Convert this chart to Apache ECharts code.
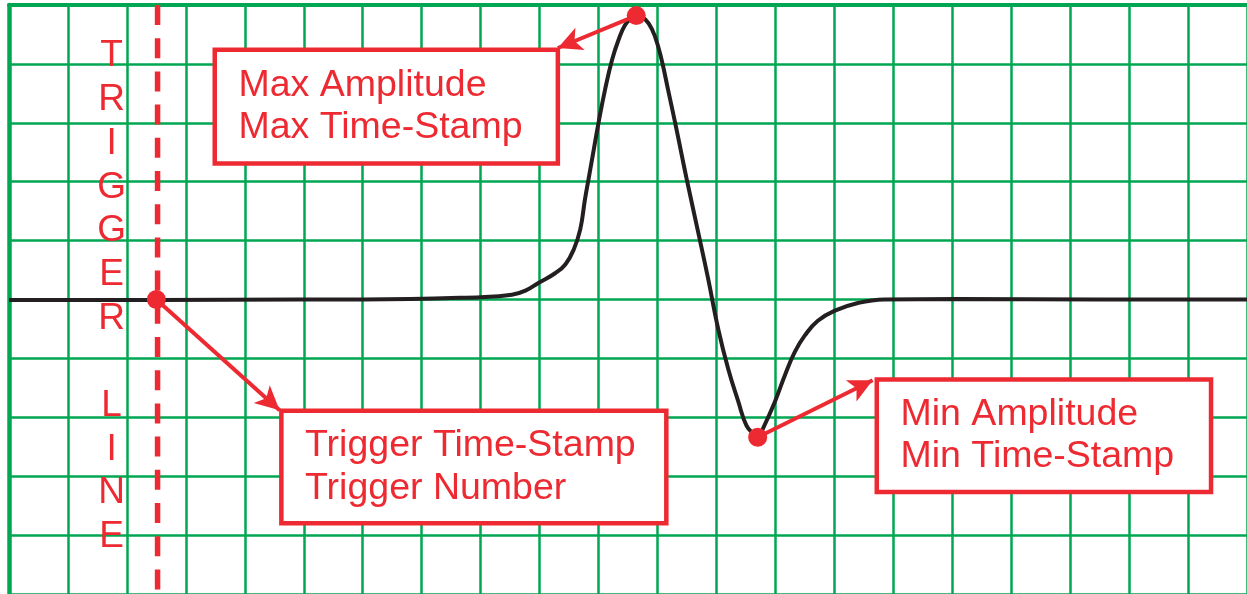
<!DOCTYPE html>
<html><head><meta charset="utf-8">
<script src="https://cdn.jsdelivr.net/npm/echarts@6/dist/echarts.min.js"></script>
<style>html,body{margin:0;padding:0;background:#fff;overflow:hidden}#chart{width:1247px;height:594px;}</style>
</head><body><div id="chart"></div>
<script>
// ---- data (grid units) ----
const waveX = [0.00, 2.50, 4.92, 6.01, 8.00, 8.53, 8.76, 8.98, 9.27, 9.44, 9.58, 9.69, 9.77, 9.83, 9.92, 10.00, 10.11, 10.23, 10.34, 10.45, 10.56, 10.64, 10.73, 10.85, 10.96, 11.07, 11.18, 11.30, 11.41, 11.49, 11.68, 11.86, 12.03, 12.20, 12.37, 12.51, 12.65, 12.71, 12.79, 12.99, 13.16, 13.33, 13.50, 13.72, 14.01, 14.40, 14.85, 16.09, 18.46, 21.00];
const waveY = [-0.01, -0.01, 0.00, 0.00, 0.04, 0.08, 0.15, 0.28, 0.45, 0.60, 0.85, 1.19, 1.70, 2.04, 2.55, 3.00, 3.56, 4.07, 4.41, 4.66, 4.78, 4.82, 4.80, 4.69, 4.46, 4.07, 3.56, 3.00, 2.46, 2.07, 1.19, 0.35, -0.50, -1.18, -1.73, -2.14, -2.30, -2.33, -2.19, -1.74, -1.29, -0.89, -0.61, -0.36, -0.19, -0.06, 0.00, 0.01, 0.00, 0.00];
const keyNames = ['Trigger', 'Max', 'Min'];
const keyX = [2.50, 10.64, 12.70];
const keyY = [0.00, 4.82, -2.34];
const triggerX = 2.52;
const boxText = [
  ['Trigger Time-Stamp', 'Trigger Number'],
  ['Max Amplitude', 'Max Time-Stamp'],
  ['Min Amplitude', 'Min Time-Stamp']
];
const triggerLabel = 'TRIGGER LINE';

// ---- layout (grid units) ----
const xMin = 0, xMax = 21, yMin = -5, yMax = 5;
const boxRects = [
  [4.62, -1.89, 11.15, -3.80],
  [3.49, 4.24, 9.31, 2.31],
  [14.72, -1.36, 20.39, -3.27]
];
const arrowTips = [[4.59, -1.88], [9.31, 4.27], [14.65, -1.37]];
const triggerLabelAt = [1.74, 0.05];

const GREEN = '#00a651', RED = '#ed2a31', INK = '#231f20';
const FONT = '"Liberation Sans", Arial, Helvetica, sans-serif';
const ARROW = [18, 24];

const chart = echarts.init(document.getElementById('chart'), null, {renderer: 'canvas'});

chart.setOption({
  animation: false,
  backgroundColor: '#fff',
  grid: {left: 9, top: 5, width: 59.1 * 21, height: 591, containLabel: false},
  xAxis: {
    type: 'value', min: xMin, max: xMax, interval: 1, position: 'top',
    axisLine: {show: true, onZero: false, lineStyle: {color: GREEN, width: 4}},
    axisTick: {show: false}, axisLabel: {show: false},
    splitLine: {show: true, lineStyle: {color: GREEN, width: 2.5}}
  },
  yAxis: {
    type: 'value', min: yMin, max: yMax, interval: 1,
    axisLine: {show: true, onZero: false, lineStyle: {color: GREEN, width: 4.5}},
    axisTick: {show: false}, axisLabel: {show: false},
    splitLine: {show: true, lineStyle: {color: GREEN, width: 2.5}}
  },
  series: [
    {
      name: 'trigger line', type: 'line', z: 2, silent: true,
      data: [[triggerX, yMax], [triggerX, yMin]],
      showSymbol: false, symbol: 'none',
      lineStyle: {color: RED, width: 5.5, type: [20, 13.2]}
    },
    {
      name: 'waveform', type: 'line', z: 3, silent: true,
      data: waveX.map((x, i) => [x, waveY[i]]),
      showSymbol: false, symbol: 'none', smooth: 0.45,
      lineStyle: {color: INK, width: 4},
      markArea: {
        silent: true,
        itemStyle: {color: '#fff', borderColor: RED, borderWidth: 4.5},
        label: {
          show: true, position: 'insideLeft', distance: 26,
          color: RED, fontSize: 37.5, fontFamily: FONT, lineHeight: 42.5
        },
        emphasis: {disabled: true},
        data: boxRects.map((r, i) => [
          {name: boxText[i].join('\n'), coord: [r[0], r[1]]},
          {coord: [r[2], r[3]]}
        ])
      },
      markLine: {
        silent: true, symbol: ['none', 'arrow'], symbolSize: ARROW,
        label: {show: false},
        lineStyle: {color: RED, width: 4, type: 'solid', opacity: 1},
        emphasis: {disabled: true},
        data: keyX.map((x, i) => [
          {coord: [x, keyY[i]]},
          {coord: arrowTips[i], symbol: 'arrow', symbolSize: ARROW}
        ])
      }
    },
    {
      name: 'key points', type: 'scatter', z: 5, silent: true,
      data: keyX.map((x, i) => ({name: keyNames[i], value: [x, keyY[i]]})),
      symbol: 'circle', symbolSize: 19,
      itemStyle: {color: RED, opacity: 1},
      markPoint: {
        silent: true,
        data: [{
          coord: triggerLabelAt, symbol: 'circle', symbolSize: 1,
          itemStyle: {color: 'rgba(0,0,0,0)'},
          label: {
            show: true, position: 'inside',
            formatter: triggerLabel.split('').join('\n'),
            color: RED, fontSize: 37, fontFamily: FONT, lineHeight: 43.7, align: 'center'
          }
        }]
      }
    }
  ]
});
</script>
</body></html>
